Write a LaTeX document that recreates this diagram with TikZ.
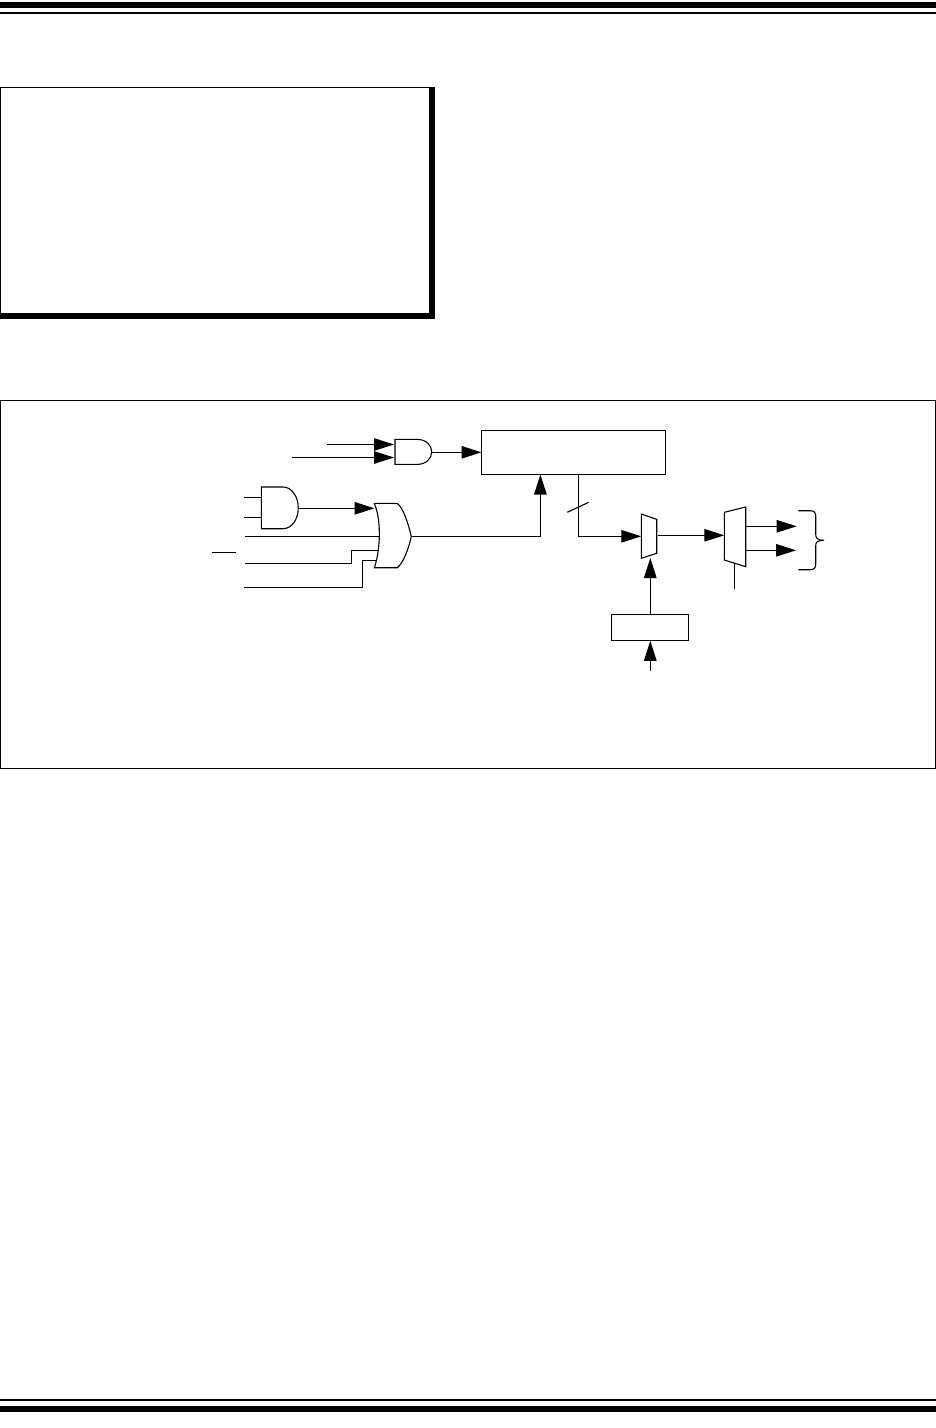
\documentclass[tikz,border=0pt]{standalone}
\usetikzlibrary{arrows.meta}
\tikzset{
  wire/.style={line width=1.1pt,line join=miter},
  arrowwire/.style={wire,-{Triangle[length=20pt,width=12.5pt]}},
  blockbox/.style={draw,line width=1.1pt,inner sep=0pt,fill=white},
  gate/.style={draw,line width=1.1pt,fill=white,line join=miter},
  heavybar/.style={fill=black,draw=none}
}
\begin{document}
\begin{tikzpicture}[x=1pt,y=-1pt]
\useasboundingbox (0,0) rectangle (936,1428);
\fill[white] (0,0) rectangle (936,1428);
% page rules
\fill[heavybar] (0,2) rectangle (936,8);
\fill[heavybar] (0,12) rectangle (936,14);
\fill[heavybar] (0,1399) rectangle (936,1401);
\fill[heavybar] (0,1406) rectangle (936,1412);
% note box
\draw[line width=1.3pt] (0.7,319) -- (0.7,87.5) -- (430,87.5);
\fill[heavybar] (429,87) rectangle (435,319);
\fill[heavybar] (0,313) rectangle (435,319);
% figure frame
\node[blockbox,fill=none,line width=0.8pt,minimum width=934.4pt,minimum height=368pt] (frame) at (468,584) {};
% blocks
\node[blockbox,minimum width=183.5pt,minimum height=44.5pt] (counter) at (573.3,452.3) {};
\node[blockbox,minimum width=77.4pt,minimum height=26pt] (reg) at (650,627.3) {};
% port coordinates
\coordinate (a1in1s) at (327,444.5); \coordinate (a1in1) at (394,444.5);
\coordinate (a1in2s) at (292,457.5); \coordinate (a1in2) at (394,457.5);
\coordinate (a1out) at (431.7,452.3);
\coordinate (cin) at (481.5,452.3);
\coordinate (a2in1s) at (244,497.3); \coordinate (a2in1) at (261.3,497.3);
\coordinate (a2in2s) at (244,517.3); \coordinate (a2in2) at (261.3,517.3);
\coordinate (a2out) at (298.3,508.3);
\coordinate (o1in1) at (374.5,508.3);
\coordinate (o1s2) at (245,536.3); \coordinate (o1in2) at (379,536.3);
\coordinate (o1s3) at (245,563.3); \coordinate (o1k3a) at (351.7,563.3); \coordinate (o1k3b) at (351.7,550.3); \coordinate (o1in3) at (378,550.3);
\coordinate (o1s4) at (244,587.3); \coordinate (o1k4a) at (362.3,587.3); \coordinate (o1k4b) at (362.3,560.3); \coordinate (o1in4) at (376.5,560.3);
\coordinate (o1out) at (411.3,536.6);
\coordinate (ok) at (540.4,536.6);
\coordinate (ctip) at (540.4,474.5);
\coordinate (cb) at (578.3,474.5);
\coordinate (bk) at (578.3,536.3);
\coordinate (m1in) at (641.3,536.3);
\coordinate (m1out) at (658,535.3);
\coordinate (m2in) at (724.3,535.3);
\coordinate (m1sel) at (650.3,558);
\coordinate (regtop) at (650.3,614.3);
\coordinate (regtip) at (650.3,640.8);
\coordinate (regs) at (650.3,671);
\coordinate (m2o1) at (745.7,526.3); \coordinate (t1) at (796.7,526.3);
\coordinate (m2o2) at (745.7,550.3); \coordinate (t2) at (796,550.3);
\coordinate (m2sa) at (734.3,563.3); \coordinate (m2sb) at (734.3,588.7);
\coordinate (sl1) at (567.3,512.3); \coordinate (sl2) at (588.7,502.3);
\coordinate (ov1) at (212,552.3); \coordinate (ov2) at (236,552.3);
% gates
\draw[gate] (395,439.4) -- (417,439.4) .. controls (426,439.4) and (431.7,445) .. (431.7,451.8) .. controls (431.7,458.7) and (426,464.4) .. (417,464.4) -- (395,464.4) -- cycle;
\draw[gate] (261.3,487) -- (283,487) .. controls (292,487) and (298.3,497) .. (298.3,507.8) .. controls (298.3,519) and (292,528.7) .. (283,528.7) -- (261.3,528.7) -- cycle;
\draw[gate] (374.3,503.3) -- (397.3,503.3) .. controls (403,508) and (408,522) .. (411.3,536.6) .. controls (408,551) and (403,563) .. (397.3,567.7) -- (374.3,567.7) .. controls (380,552) and (382,521) .. (374.3,503.3) -- cycle;
\draw[gate] (641.3,514) -- (656.7,519.3) -- (656.7,553.3) -- (641.3,558.3) -- cycle;
\draw[gate] (724.3,512.3) -- (745.7,507) -- (745.7,566.7) -- (724.3,560) -- cycle;
% connectors
\draw[arrowwire] (a1in1s) -- (a1in1);
\draw[arrowwire] (a1in2s) -- (a1in2);
\draw[arrowwire] (a1out) -- (cin);
\draw[wire] (a2in1s) -- (a2in1);
\draw[wire] (a2in2s) -- (a2in2);
\draw[arrowwire] (a2out) -- (o1in1);
\draw[wire] (o1s2) -- (o1in2);
\draw[wire] (o1s3) -- (o1k3a) -- (o1k3b) -- (o1in3);
\draw[wire] (o1s4) -- (o1k4a) -- (o1k4b) -- (o1in4);
\draw[arrowwire] (o1out) -- (ok) -- (ctip);
\draw[arrowwire] (cb) -- (bk) -- (m1in);
\draw[wire] (sl1) -- (sl2);
\draw[arrowwire] (m1out) -- (m2in);
\draw[arrowwire] (regtop) -- (m1sel);
\draw[arrowwire] (regs) -- (regtip);
\draw[arrowwire] (m2o1) -- (t1);
\draw[arrowwire] (m2o2) -- (t2);
\draw[wire] (m2sa) -- (m2sb);
\draw[wire] (ov1) -- (ov2);
% brace
\draw[wire] (798.3,510.7) -- (810,510.7) .. controls (814,510.7) and (815.7,512.5) .. (815.7,516) -- (815.7,534) .. controls (815.7,538) and (817,540) .. (824,540.3) .. controls (817,540.6) and (815.7,542) .. (815.7,546) -- (815.7,564) .. controls (815.7,568) and (814,569.7) .. (810,569.7) -- (798.3,569.7);
\end{tikzpicture}
\end{document}
